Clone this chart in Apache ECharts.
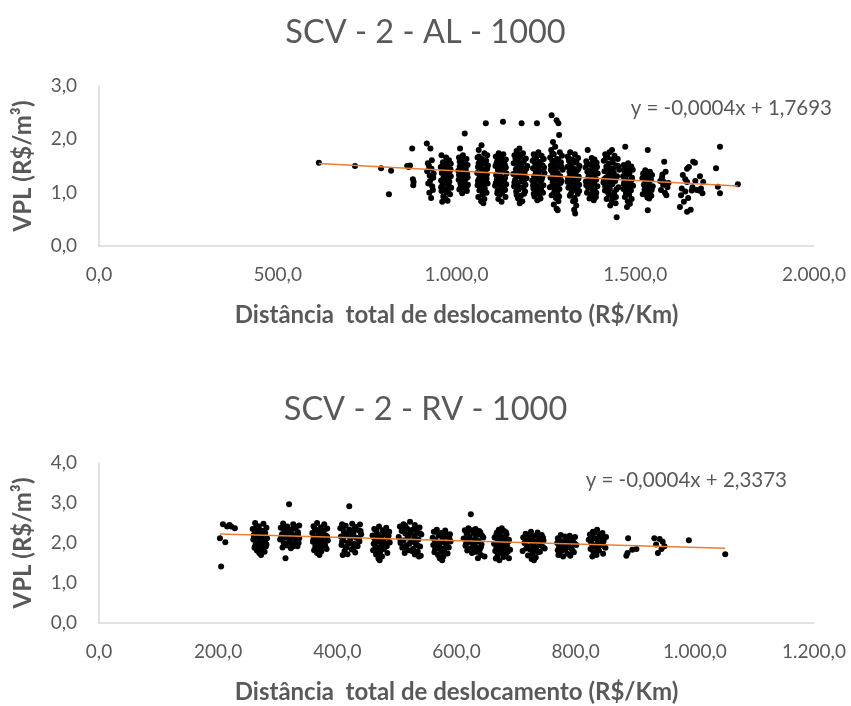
<!DOCTYPE html>
<html>
<head>
<meta charset="utf-8">
<script src="https://cdn.jsdelivr.net/npm/echarts@6/dist/echarts.min.js"></script>
<style>html,body{margin:0;padding:0;background:#fff;}#c{width:851px;height:706px;}</style>
</head>
<body>
<div id="c"></div>
<script>
// ---------- Chart 1: SCV - 2 - AL - 1000 ----------
const titleAL = 'SCV - 2 - AL - 1000';
const eqAL = 'y = -0,0004x + 1,7693';
const trendAL = [-0.00036, 1.7693]; // slope, intercept
const xTicksAL = [0, 2000, 500];
const yTicksAL = [0, 3, 1];

const alLeft = [[615,1.56],[716,1.50],[789,1.46],[817,1.41],[811,0.97],[862,1.50],[866,1.48],[870,1.51],[876,1.83],[878,1.25],[879,1.14],[880,1.20]];
const alC0 = [[917,1.92],[927,1.83],[931,1.61],[925,1.32],[921,1.17],[934,1.05],[929,0.90],[918,1.40],[923,1.50],[930,1.45],[935,1.28],[926,1.22],[920,1.55],[932,1.12],[924,1.00],[936,1.36]];
const alC1 = [[958,1.70],[971,1.66],[979,1.61],[962,1.57],[984,1.54],[967,1.52],[956,1.48],[976,1.46],[963,1.43],[981,1.40],[959,1.37],[970,1.35],[984,1.31],[964,1.29],[975,1.26],[957,1.23],[980,1.21],[968,1.18],[961,1.15],[977,1.12],[985,1.09],[966,1.06],[958,1.03],[973,1.00],[982,0.97],[963,0.93],[969,0.89],[975,0.85],[960,0.83],[972,1.44],[965,1.33],[978,1.16],
  [961,1.50],[974,1.38],[966,1.24],[980,1.30],[957,1.10],[970,1.55],[983,1.44],[962,1.19],[976,1.02],[968,1.41]];
const alC2 = [[1023,2.11],[1010,1.83],[1018,1.70],[1007,1.66],[1028,1.63],[1014,1.59],[1022,1.56],[1031,1.52],[1009,1.49],[1019,1.47],[1026,1.44],[1005,1.41],[1015,1.38],[1030,1.35],[1011,1.32],[1021,1.30],[1027,1.27],[1006,1.24],[1017,1.21],[1024,1.18],[1032,1.15],[1012,1.12],[1020,1.09],[1008,1.06],[1029,1.03],[1016,0.99],[1025,1.40],[1013,1.26],[1022,1.14],
  [1009,1.58],[1025,1.53],[1016,1.46],[1031,1.29],[1007,1.33],[1020,1.22],[1028,1.10],[1011,1.17],[1018,1.36],[1024,1.62]];
const alC3 = [[1082,2.30],[1070,1.89],[1062,1.80],[1078,1.74],[1086,1.70],[1059,1.66],[1072,1.63],[1083,1.60],[1065,1.57],[1077,1.54],[1088,1.51],[1060,1.48],[1069,1.46],[1080,1.43],[1074,1.40],[1058,1.37],[1085,1.34],[1066,1.31],[1076,1.29],[1063,1.26],[1081,1.23],[1071,1.20],[1087,1.17],[1059,1.14],[1068,1.11],[1079,1.08],[1064,1.04],[1084,1.00],[1073,0.96],[1061,0.92],[1078,0.88],[1069,0.84],[1075,0.80],[1067,1.50],[1082,1.28],
  [1062,1.55],[1079,1.58],[1070,1.35],[1086,1.45],[1060,1.22],[1075,1.15],[1084,1.26],[1066,1.06],[1072,1.44],[1080,1.02],[1063,1.68],[1077,1.33]];
const alC4 = [[1130,2.33],[1118,1.74],[1131,1.72],[1110,1.68],[1124,1.65],[1138,1.62],[1114,1.59],[1127,1.56],[1135,1.53],[1109,1.50],[1120,1.48],[1133,1.45],[1116,1.42],[1126,1.39],[1140,1.36],[1111,1.33],[1122,1.31],[1136,1.28],[1113,1.25],[1129,1.22],[1119,1.19],[1139,1.16],[1108,1.13],[1125,1.10],[1134,1.07],[1115,1.04],[1128,1.00],[1121,0.96],[1137,0.92],[1117,0.88],[1126,0.83],[1132,1.40],[1114,1.20],
  [1112,1.55],[1128,1.62],[1138,1.47],[1117,1.34],[1131,1.27],[1110,1.18],[1124,1.13],[1136,1.05],[1119,1.50],[1127,1.44],[1114,0.99],[1133,1.21]];
const alC5 = [[1182,2.30],[1176,1.83],[1168,1.78],[1186,1.74],[1162,1.70],[1179,1.67],[1194,1.64],[1170,1.61],[1188,1.58],[1160,1.55],[1175,1.53],[1198,1.50],[1183,1.47],[1166,1.44],[1191,1.41],[1173,1.38],[1159,1.35],[1185,1.33],[1178,1.30],[1196,1.27],[1164,1.24],[1181,1.21],[1171,1.18],[1193,1.15],[1161,1.12],[1187,1.09],[1174,1.06],[1167,1.02],[1189,0.98],[1180,0.94],[1172,0.89],[1184,0.84],[1177,0.80],[1169,1.46],[1190,1.36],
  [1165,1.63],[1183,1.56],[1195,1.45],[1170,1.32],[1186,1.26],[1162,1.19],[1176,1.10],[1192,1.02],[1168,0.96],[1180,1.40],[1189,1.20],[1174,1.72]];
const alC6 = [[1225,2.30],[1229,1.76],[1216,1.72],[1238,1.69],[1223,1.66],[1244,1.63],[1213,1.60],[1232,1.57],[1220,1.54],[1241,1.51],[1227,1.49],[1214,1.46],[1236,1.43],[1222,1.40],[1246,1.37],[1230,1.34],[1217,1.31],[1240,1.29],[1225,1.26],[1212,1.23],[1234,1.20],[1219,1.17],[1243,1.14],[1228,1.11],[1215,1.08],[1237,1.05],[1224,1.01],[1231,0.97],[1218,0.93],[1235,0.89],[1226,0.86],[1233,1.52],[1221,1.32],
  [1218,1.64],[1235,1.58],[1245,1.47],[1222,1.35],[1238,1.24],[1214,1.14],[1229,1.06],[1242,1.00],[1220,1.44],[1232,1.28],[1226,1.70],[1216,0.98]];
const alC7 = [[1266,2.45],[1280,2.36],[1285,2.30],[1287,2.08],[1270,1.95],[1276,1.86],[1265,1.80],[1289,1.76],[1272,1.72],[1295,1.69],[1262,1.66],[1281,1.63],[1268,1.60],[1292,1.57],[1277,1.54],[1264,1.51],[1286,1.48],[1273,1.46],[1297,1.43],[1267,1.40],[1283,1.37],[1271,1.34],[1290,1.31],[1263,1.28],[1279,1.25],[1294,1.22],[1269,1.19],[1284,1.16],[1275,1.13],[1261,1.10],[1288,1.07],[1274,1.03],[1282,0.99],[1266,0.95],[1278,0.90],[1285,0.84],[1272,0.78],[1280,0.70],[1283,0.67],
  [1268,1.74],[1284,1.62],[1293,1.49],[1264,1.43],[1279,1.32],[1291,1.18],[1267,1.12],[1281,1.05],[1272,0.98],[1287,0.93],[1276,1.40],[1270,1.24]];
const alC8 = [[1318,1.76],[1331,1.72],[1311,1.68],[1340,1.65],[1324,1.62],[1315,1.59],[1336,1.56],[1322,1.53],[1344,1.50],[1310,1.48],[1328,1.45],[1338,1.42],[1316,1.39],[1333,1.36],[1321,1.33],[1342,1.30],[1312,1.27],[1327,1.24],[1337,1.21],[1319,1.18],[1343,1.15],[1325,1.12],[1313,1.09],[1334,1.06],[1323,1.02],[1339,0.98],[1317,0.94],[1330,0.90],[1326,0.84],[1335,0.76],[1329,0.68],[1332,0.61],[1320,1.44],[1341,1.26],
  [1314,1.64],[1330,1.58],[1341,1.45],[1318,1.35],[1335,1.29],[1311,1.20],[1327,1.14],[1343,1.03],[1320,0.98],[1332,0.86],[1324,1.40],[1338,1.10]];
const alC9 = [[1367,1.80],[1378,1.65],[1386,1.62],[1363,1.59],[1392,1.56],[1371,1.53],[1381,1.50],[1361,1.47],[1389,1.45],[1375,1.42],[1366,1.39],[1395,1.36],[1383,1.33],[1369,1.30],[1377,1.27],[1391,1.24],[1362,1.21],[1385,1.18],[1373,1.15],[1394,1.12],[1368,1.09],[1380,1.06],[1387,1.03],[1365,1.00],[1376,0.96],[1390,0.92],[1372,0.89],[1384,0.86],[1379,1.40],[1370,1.20],
  [1365,1.55],[1382,1.60],[1393,1.48],[1370,1.36],[1386,1.29],[1363,1.14],[1378,1.10],[1391,1.00],[1374,1.22],[1381,0.93]];
const alC10 = [[1435,1.80],[1428,1.76],[1416,1.72],[1442,1.69],[1423,1.66],[1451,1.63],[1412,1.60],[1437,1.57],[1426,1.54],[1447,1.51],[1419,1.49],[1433,1.46],[1455,1.43],[1414,1.40],[1440,1.37],[1425,1.34],[1449,1.31],[1418,1.28],[1431,1.25],[1444,1.22],[1411,1.19],[1436,1.16],[1422,1.13],[1453,1.10],[1429,1.07],[1415,1.04],[1441,1.00],[1427,0.96],[1446,0.92],[1420,0.88],[1434,0.84],[1445,0.80],[1430,0.76],[1448,0.54],[1438,1.45],[1424,1.22],
  [1418,1.65],[1436,1.62],[1452,1.50],[1421,1.42],[1439,1.30],[1413,1.25],[1428,1.18],[1447,1.06],[1424,1.00],[1437,0.90],[1432,1.38],[1416,1.12]];
const alC11 = [[1472,1.86],[1480,1.55],[1468,1.52],[1489,1.49],[1475,1.46],[1493,1.43],[1470,1.40],[1484,1.37],[1478,1.34],[1466,1.31],[1491,1.28],[1473,1.25],[1486,1.22],[1469,1.19],[1481,1.16],[1494,1.13],[1476,1.10],[1467,1.07],[1488,1.04],[1474,1.00],[1483,0.96],[1471,0.92],[1490,0.88],[1479,0.84],[1485,0.79],[1477,0.73],[1482,1.42],[1487,1.20],
  [1470,1.48],[1486,1.45],[1474,1.32],[1490,1.24],[1468,1.16],[1482,1.08],[1479,0.98],[1471,1.28]];
const alC12 = [[1535,1.80],[1528,1.42],[1541,1.39],[1522,1.36],[1547,1.33],[1533,1.30],[1520,1.27],[1544,1.24],[1530,1.21],[1538,1.18],[1524,1.15],[1549,1.12],[1536,1.09],[1526,1.06],[1542,1.03],[1531,1.00],[1521,0.97],[1545,0.94],[1534,0.91],[1539,0.89],[1535,0.67],[1527,1.26],[1540,1.10],
  [1524,1.32],[1541,1.28],[1531,1.14],[1546,1.05],[1526,0.99],[1537,1.36]];
const alC13 = [[1581,1.58],[1585,1.39],[1575,1.29],[1580,1.20],[1590,1.10],[1572,1.05],[1587,0.95],[1578,1.15],[1583,1.00],[1570,1.22],[1593,1.18],[1576,1.34]];
const alC14 = [[1662,1.58],[1650,1.48],[1645,1.45],[1667,1.56],[1633,1.33],[1640,1.25],[1645,1.20],[1630,1.08],[1640,1.02],[1628,0.95],[1648,0.90],[1636,0.83],[1625,0.73],[1645,0.64],[1655,0.68],[1660,1.10],[1668,1.22],[1672,1.05],[1658,1.04],[1681,1.31],[1690,1.20],[1678,1.04],[1688,0.99],[1684,1.08]];
const alRight = [[1726,1.46],[1737,1.86],[1731,1.11],[1737,0.99],[1787,1.16]];

// ---------- Chart 2: SCV - 2 - RV - 1000 ----------
const titleRV = 'SCV - 2 - RV - 1000';
const eqRV = 'y = -0,0004x + 2,3373';
const trendRV = [-0.00042, 2.31]; // slope, intercept
const xTicksRV = [0, 1200, 200];
const yTicksRV = [0, 4, 1];

const rvB0 = [[205,1.41],[203,2.12],[212,2.02],[208,2.47],[215,2.41],[222,2.41],[228,2.37],[219,2.45]];
const rvB1 = [[262,2.50],[276,2.48],[268,2.42],[281,2.38],[258,2.35],[271,2.32],[264,2.28],[279,2.25],[260,2.21],[273,2.18],[266,2.15],[282,2.12],[259,2.09],[270,2.06],[277,2.03],[263,2.00],[274,1.97],[267,1.94],[280,1.91],[261,1.88],[272,1.85],[265,1.81],[278,1.78],[269,1.75],[272,1.70],
  [264,2.40],[277,2.30],[260,2.16],[275,2.10],[268,2.02],[281,1.96],[262,1.92],[271,2.24],[279,2.06],[266,1.84]];
const rvB2 = [[319,2.97],[313,1.62],[309,2.49],[326,2.47],[336,2.44],[316,2.41],[305,2.38],[330,2.36],[321,2.33],[311,2.30],[334,2.27],[318,2.25],[307,2.22],[327,2.20],[323,2.17],[313,2.14],[336,2.12],[304,2.09],[320,2.06],[331,2.03],[310,2.00],[325,1.97],[316,1.94],[333,1.92],[308,1.89],[322,1.87],[328,2.42],[314,2.18],
  [310,2.40],[325,2.35],[334,2.20],[315,2.28],[306,2.15],[329,2.10],[319,2.02],[312,1.96],[335,2.00],[326,1.92],[321,2.24]];
const rvB3 = [[366,2.50],[378,2.47],[360,2.42],[372,2.39],[383,2.36],[364,2.32],[376,2.29],[358,2.25],[369,2.22],[381,2.19],[362,2.15],[374,2.12],[367,2.09],[384,2.06],[359,2.03],[371,2.00],[379,1.97],[363,1.94],[375,1.91],[368,1.88],[382,1.85],[361,1.82],[373,1.79],[366,1.75],[370,1.70],
  [362,2.37],[378,2.32],[368,2.26],[383,2.16],[360,2.10],[375,2.04],[366,1.98],[380,1.90],[363,1.86],[372,2.20],[369,1.80]];
const rvB4 = [[420,2.92],[408,2.47],[425,2.48],[438,2.46],[414,2.43],[431,2.40],[405,2.37],[420,2.34],[436,2.31],[411,2.28],[427,2.25],[440,2.22],[416,2.19],[406,2.16],[432,2.13],[422,2.10],[410,2.07],[437,2.04],[418,2.01],[428,1.98],[407,1.95],[434,1.92],[415,1.88],[424,1.84],[412,1.80],[430,1.76],[417,1.72],[409,1.70],
  [410,2.42],[429,2.36],[439,2.30],[413,2.23],[425,2.17],[436,2.10],[408,2.04],[420,1.98],[432,1.95],[414,1.90],[427,1.86],[421,2.28]];
const rvB5 = [[470,2.41],[482,2.38],[462,2.35],[476,2.32],[487,2.28],[466,2.25],[479,2.22],[459,2.19],[473,2.16],[485,2.13],[464,2.10],[477,2.07],[468,2.04],[488,2.01],[461,1.98],[474,1.95],[483,1.92],[467,1.88],[478,1.85],[460,1.82],[472,1.78],[484,1.75],[465,1.71],[475,1.66],[469,1.61],[471,1.57],
  [465,2.32],[480,2.28],[470,2.20],[486,2.18],[462,2.12],[475,2.06],[481,1.98],[464,1.92],[479,1.90],[470,1.84],[468,1.74]];
const rvB6 = [[522,2.53],[511,2.47],[530,2.45],[505,2.41],[538,2.39],[517,2.36],[526,2.33],[508,2.30],[534,2.27],[514,2.24],[541,2.21],[520,2.18],[503,2.15],[529,2.12],[536,2.09],[511,2.06],[524,2.03],[506,2.00],[532,1.97],[516,1.94],[539,1.91],[509,1.88],[527,1.85],[519,1.82],[535,1.78],[513,1.75],[530,1.71],[540,1.68],[537,1.66],
  [514,2.44],[533,2.38],[509,2.34],[523,2.27],[539,2.24],[518,2.14],[532,2.08],[506,2.06],[521,1.98],[535,1.93],[512,1.90],[525,1.80],[530,2.18]];
const rvB7 = [[567,2.33],[581,2.31],[562,2.28],[575,2.25],[589,2.22],[570,2.19],[584,2.16],[560,2.13],[577,2.10],[565,2.07],[590,2.04],[573,2.01],[582,1.98],[561,1.95],[571,1.92],[587,1.89],[566,1.86],[579,1.83],[574,1.80],[563,1.77],[585,1.74],[569,1.70],[578,1.66],[572,1.62],[576,1.57],
  [565,2.28],[582,2.24],[574,2.18],[588,2.12],[563,2.08],[577,2.04],[568,1.97],[584,1.92],[575,1.86],[564,1.84],[580,1.76]];
const rvB8 = [[624,2.72],[620,2.37],[632,2.35],[614,2.32],[628,2.29],[640,2.26],[617,2.23],[635,2.20],[622,2.17],[645,2.14],[612,2.11],[630,2.08],[637,2.05],[619,2.02],[627,1.99],[642,1.96],[615,1.93],[633,1.90],[624,1.87],[639,1.84],[618,1.81],[631,1.78],[626,1.75],[641,1.70],[647,1.66],[636,1.62],
  [626,2.32],[638,2.30],[618,2.26],[631,2.22],[643,2.18],[621,2.12],[634,2.04],[616,1.98],[629,1.94],[641,1.90],[622,1.84],[635,1.78]];
const rvB9 = [[676,2.37],[671,2.33],[680,2.30],[668,2.26],[684,2.22],[674,2.18],[664,2.14],[681,2.10],[670,2.07],[687,2.04],[677,2.01],[663,1.98],[673,1.95],[685,1.92],[667,1.89],[678,1.86],[690,1.83],[665,1.80],[675,1.76],[683,1.73],[669,1.69],[679,1.65],[666,1.61],[672,1.57],[688,1.62],
  [673,2.32],[683,2.27],[667,2.22],[677,2.14],[688,2.08],[671,2.02],[682,1.96],[668,1.94],[679,1.90],[674,1.82],[686,1.78]];
const rvB10 = [[725,2.28],[736,2.26],[716,2.23],[743,2.20],[729,2.17],[712,2.14],[739,2.12],[722,2.09],[746,2.06],[732,2.03],[714,2.00],[727,1.98],[741,1.95],[719,1.92],[734,1.89],[748,1.86],[724,1.83],[711,1.80],[737,1.77],[728,1.73],[720,1.69],[733,1.64],[726,1.60],[730,1.57],
  [720,2.20],[734,2.18],[745,2.14],[725,2.12],[716,2.06],[738,2.02],[729,1.94],[745,1.90],[717,1.86],[731,1.82],[740,1.78]];
const rvB11 = [[775,2.20],[790,2.18],[799,2.15],[770,2.12],[784,2.09],[795,2.06],[778,2.03],[769,2.00],[788,1.98],[801,1.95],[780,1.92],[772,1.89],[793,1.86],[783,1.83],[776,1.80],[797,1.77],[786,1.73],[771,1.70],[791,1.68],[779,1.66],
  [782,2.16],[794,2.12],[773,2.06],[787,2.02],[798,1.99],[776,1.96],[790,1.90],[781,1.87],[770,1.82],[795,1.80]];
const rvB12 = [[836,2.33],[829,2.28],[845,2.25],[824,2.21],[840,2.18],[851,2.15],[832,2.12],[822,2.08],[847,2.05],[837,2.02],[827,1.98],[843,1.95],[833,1.91],[850,1.88],[825,1.85],[839,1.81],[830,1.77],[846,1.73],[835,1.70],[828,1.66],
  [832,2.26],[842,2.22],[828,2.16],[846,2.10],[838,2.06],[826,2.02],[841,1.99],[831,1.94],[848,1.92],[836,1.86]];
const rvB13 = [[888,2.12],[895,1.83],[902,1.85],[885,1.68],[887,1.75]];
const rvB14 = [[932,2.12],[941,2.10],[946,2.03],[935,1.96],[949,1.92],[938,1.75],[944,1.85]];
const rvB15 = [[990,2.07],[1051,1.72]];

// ---------- build ----------
const alData = [].concat(alLeft, alC0, alC1, alC2, alC3, alC4, alC5, alC6, alC7, alC8, alC9, alC10, alC11, alC12, alC13, alC14, alRight);
const rvData = [].concat(rvB0, rvB1, rvB2, rvB3, rvB4, rvB5, rvB6, rvB7, rvB8, rvB9, rvB10, rvB11, rvB12, rvB13, rvB14, rvB15);

function trendLine(data, coef) {
  const xs = data.map(d => d[0]);
  const x0 = Math.min.apply(null, xs), x1 = Math.max.apply(null, xs);
  return [[x0, coef[0] * x0 + coef[1]], [x1, coef[0] * x1 + coef[1]]];
}
function fmt(v) {
  const s = Number(v).toFixed(1).split('.');
  return s[0].replace(/\B(?=(\d{3})+(?!\d))/g, '.') + ',' + s[1];
}

const TXT = '#595959';
const FONT = 'Lato';
const axisLineGray = { show: true, lineStyle: { color: '#d9d9d9', width: 1.5 } };

function xAxis(gi, t) {
  return {
    type: 'value', gridIndex: gi, min: t[0], max: t[1], interval: t[2],
    name: 'Distância  total de deslocamento (R$/Km)', nameLocation: 'middle', nameGap: 57,
    nameTextStyle: { color: TXT, fontFamily: FONT, fontSize: 24, fontWeight: 'bold' },
    axisLine: axisLineGray, axisTick: { show: false }, splitLine: { show: false },
    axisLabel: { color: TXT, fontFamily: FONT, fontSize: 19, margin: 19, formatter: fmt }
  };
}
function yAxis(gi, t) {
  return {
    type: 'value', gridIndex: gi, min: t[0], max: t[1], interval: t[2],
    name: 'VPL (R$/m³)', nameLocation: 'middle', nameGap: 64,
    nameTextStyle: { color: TXT, fontFamily: FONT, fontSize: 24, fontWeight: 'bold' },
    axisLine: axisLineGray, axisTick: { show: false }, splitLine: { show: false },
    axisLabel: { color: TXT, fontFamily: FONT, fontSize: 19, margin: 22, formatter: fmt }
  };
}

const chart = echarts.init(document.getElementById('c'), null, { renderer: 'canvas' });
chart.setOption({
  animation: false,
  backgroundColor: '#fff',
  title: [
    { text: titleAL, left: 'center', top: 11, textStyle: { color: TXT, fontFamily: FONT, fontSize: 32.5, fontWeight: 'normal' } },
    { text: titleRV, left: 'center', top: 388, textStyle: { color: TXT, fontFamily: FONT, fontSize: 32.5, fontWeight: 'normal' } },
    { text: eqAL, right: 14, top: 93, textStyle: { color: TXT, fontFamily: FONT, fontSize: 20.5, fontWeight: 'normal' } },
    { text: eqRV, right: 59, top: 465, textStyle: { color: TXT, fontFamily: FONT, fontSize: 20.5, fontWeight: 'normal' } }
  ],
  grid: [
    { left: 99, right: 37, top: 86, height: 160 },
    { left: 99, right: 37, top: 463, height: 160 }
  ],
  xAxis: [xAxis(0, xTicksAL), xAxis(1, xTicksRV)],
  yAxis: [yAxis(0, yTicksAL), yAxis(1, yTicksRV)],
  series: [
    { type: 'scatter', xAxisIndex: 0, yAxisIndex: 0, data: alData, symbolSize: 6, itemStyle: { color: '#000', opacity: 1 }, z: 2 },
    { type: 'line', xAxisIndex: 0, yAxisIndex: 0, data: trendLine(alData, trendAL), symbol: 'none', lineStyle: { color: '#ED7D31', width: 1.5 }, z: 3, silent: true },
    { type: 'scatter', xAxisIndex: 1, yAxisIndex: 1, data: rvData, symbolSize: 6, itemStyle: { color: '#000', opacity: 1 }, z: 2 },
    { type: 'line', xAxisIndex: 1, yAxisIndex: 1, data: trendLine(rvData, trendRV), symbol: 'none', lineStyle: { color: '#ED7D31', width: 1.5 }, z: 3, silent: true }
  ]
});
</script>
</body>
</html>
